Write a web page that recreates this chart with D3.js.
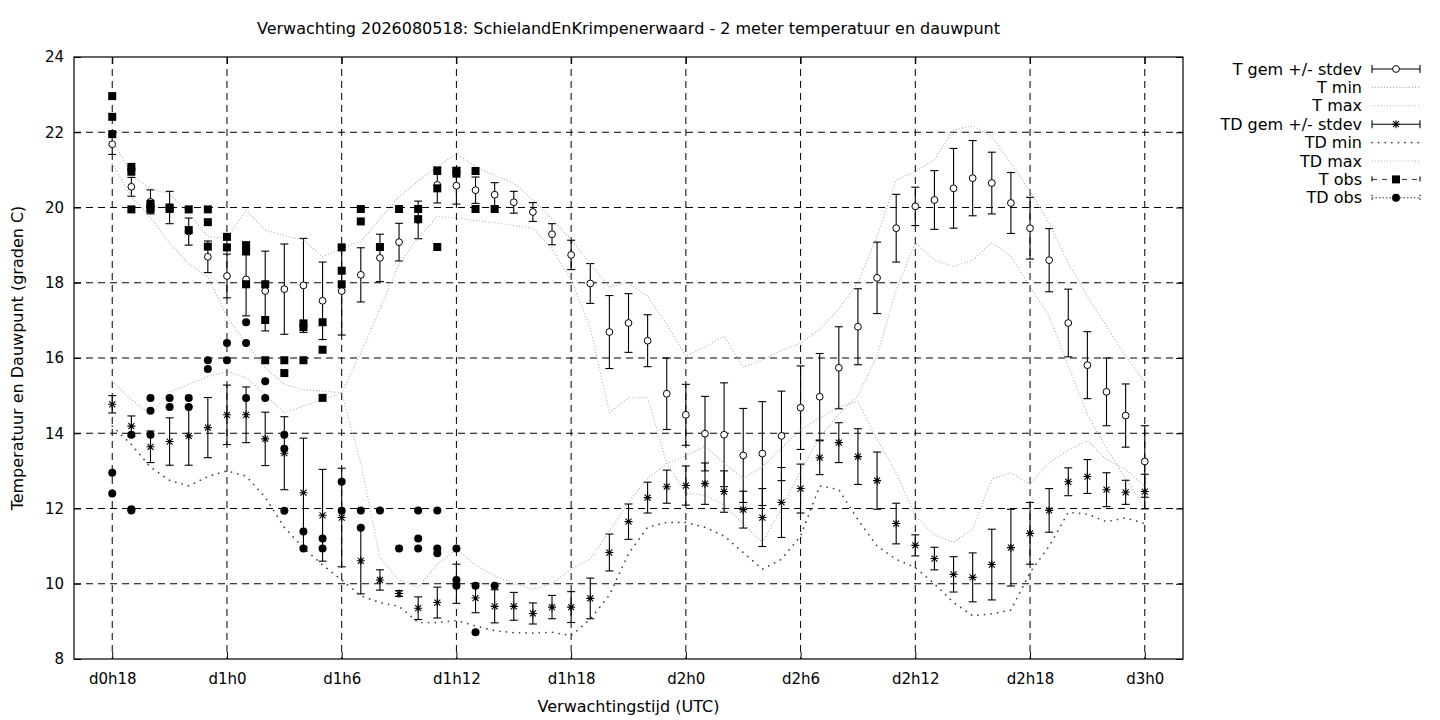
<!DOCTYPE html>
<html>
<head>
<meta charset="utf-8">
<script src="https://d3js.org/d3.v7.min.js"></script>
<style>
body { margin: 0; background: #fff; }
text { font-family: "DejaVu Sans", sans-serif; font-size: 16px; fill: #000; }
</style>
</head>
<body>
<svg id="chart" width="1440" height="720"></svg>
<script>
// verwachting per uur, uren vanaf d0h0
const hours = [18,19,20,21,22,23,24,25,26,27,28,29,30,31,32,33,34,35,36,37,38,39,40,41,42,43,44,45,
  46,47,48,49,50,51,52,53,54,55,56,57,58,59,60,61,62,63,64,65,66,67,68,69,70,71,72];

const tGem = [21.68,20.55,20.15,20.0,19.36,18.69,18.18,18.09,17.78,17.83,17.93,17.52,17.78,18.21,18.66,19.08,
  19.67,20.6,20.58,20.46,20.34,20.14,19.88,19.29,18.74,17.98,16.69,16.93,16.46,15.05,14.49,13.99,13.96,13.41,
  13.46,13.93,14.68,14.97,15.74,16.83,18.13,19.45,20.03,20.2,20.51,20.78,20.65,20.12,19.45,18.6,16.93,15.81,
  15.1,14.47,13.25];
const tSd = [0.27,0.25,0.32,0.43,0.36,0.42,0.58,0.97,1.06,1.2,1.25,1.03,1.17,0.72,0.63,0.5,0.5,0.48,0.49,0.35,
  0.32,0.29,0.25,0.28,0.39,0.53,0.97,0.78,0.69,0.95,0.81,0.99,1.38,1.25,1.38,1.19,1.11,1.15,1.09,1.01,0.95,0.9,
  0.51,0.78,1.06,1.0,0.82,0.81,0.82,0.84,0.9,0.89,0.9,0.84,0.95];
const tMin = [21.17,20.28,19.75,19.05,18.5,18.16,17.1,16.39,15.74,15.3,15.16,15.12,15.08,16.14,17.3,18.5,19.2,
  19.76,19.72,19.65,19.6,19.52,19.45,18.9,18.08,16.8,14.55,14.94,14.95,13.2,12.4,12.35,12.1,11.6,11.1,12.0,13.0,
  13.9,14.5,15.0,16.05,17.82,19.06,18.61,18.43,18.6,19.07,18.7,17.9,17.11,15.8,14.5,13.6,12.8,12.0];
const tMax = [21.83,20.86,20.5,20.37,19.84,19.22,19.18,19.93,19.4,19.25,19.14,18.69,18.91,19.1,19.7,20.29,20.7,
  21.09,21.43,21.09,20.85,20.65,20.2,19.7,19.14,18.5,17.9,17.99,17.64,16.9,16.05,16.3,16.58,15.75,15.95,16.2,
  16.4,16.76,17.3,18.0,19.23,20.73,20.96,21.27,22.06,22.17,21.88,21.18,20.43,19.59,18.52,17.64,16.84,16.05,15.38];

const tdGem = [14.77,14.19,13.64,13.78,13.93,14.15,14.49,14.49,13.85,13.47,12.42,11.82,11.76,10.61,10.1,9.74,
  9.35,9.5,10.0,9.62,9.4,9.4,9.21,9.38,9.38,9.61,10.83,11.65,12.29,12.58,12.61,12.66,12.45,11.97,11.76,12.16,
  12.53,13.35,13.75,13.38,12.74,11.6,11.02,10.67,10.25,10.17,10.51,10.96,11.34,11.95,12.71,12.85,12.5,12.43,12.45];
const tdSd = [0.23,0.27,0.42,0.63,0.78,0.8,0.79,0.74,0.71,0.97,1.45,1.22,1.31,0.88,0.27,0.08,0.3,0.41,0.52,0.39,
  0.44,0.37,0.28,0.31,0.41,0.54,0.49,0.47,0.41,0.44,0.52,0.55,0.55,0.49,0.77,0.93,0.65,0.45,0.53,0.74,0.76,0.54,
  0.28,0.3,0.47,0.65,0.94,1.02,0.82,0.58,0.37,0.45,0.45,0.32,0.46];
const tdMin = [14.19,13.7,13.1,12.75,12.6,12.85,13.0,12.86,12.3,11.5,10.95,10.5,10.1,9.68,9.5,9.4,8.97,8.97,
  9.02,8.88,8.75,8.7,8.69,8.71,8.62,9.06,9.7,10.8,11.5,11.63,11.63,11.5,11.27,10.83,10.39,10.65,11.27,12.6,12.5,
  11.7,11.0,10.65,10.43,10.0,9.5,9.15,9.2,9.3,10.3,11.0,11.9,11.85,11.65,11.75,11.6];
const tdMax = [15.38,14.9,14.5,15.1,15.3,15.5,15.65,15.47,15.03,14.54,14.72,14.9,15.08,13.2,10.7,10.1,9.9,10.52,
  10.92,10.5,10.21,10.0,9.85,10.0,10.4,10.65,11.4,12.16,12.8,13.2,13.4,13.66,13.2,12.8,13.1,13.6,14.1,14.4,14.7,
  14.85,13.84,12.95,11.8,11.3,11.1,11.45,12.78,12.95,12.64,13.22,13.55,13.8,13.3,13.04,12.6];

// waarnemingen [uur, waarde]
const tObs = [[18,22.96],[18,22.41],[18,21.95],[19,21.08],[19,20.95],[19,19.95],[20,20.1],[20,20.0],[20,19.95],
  [21,20.0],[21,19.96],[22,19.95],[22,19.4],[23,19.95],[23,19.61],[23,18.96],[24,19.22],[24,18.94],
  [25,19.0],[25,18.83],[25,17.96],[26,17.96],[26,17.01],[26,15.94],[27,15.94],[27,15.6],
  [28,16.92],[28,16.82],[28,15.94],[29,16.95],[29,16.22],[29,14.94],[30,18.94],[30,18.32],[30,17.96],
  [31,19.96],[31,19.63],[32,18.95],[33,19.96],[34,19.96],[34,19.69],[35,20.97],[35,20.51],[35,18.95],
  [36,20.97],[36,20.9],[37,20.97],[37,19.96],[38,19.96]];
const tdObs = [[18,12.95],[18,12.4],[19,13.96],[19,11.98],[19,11.95],[20,14.94],[20,14.6],[20,13.96],
  [21,14.94],[21,14.7],[22,14.94],[22,14.7],[23,15.94],[23,15.71],[24,16.4],[24,15.94],
  [25,16.95],[25,16.4],[25,14.94],[26,15.38],[26,14.94],[27,13.96],[27,13.59],[27,11.94],
  [28,11.39],[28,10.94],[29,11.2],[29,10.94],[30,12.71],[30,11.94],[31,11.95],[31,11.49],[32,11.95],
  [33,10.94],[34,11.95],[34,11.2],[34,10.94],[35,11.95],[35,10.94],[35,10.81],[36,10.94],[36,10.1],
  [36,9.95],[37,9.95],[37,8.71],[38,9.95]];

const xTicks = [18,24,30,36,42,48,54,60,66,72];
const xLabels = ["d0h18","d1h0","d1h6","d1h12","d1h18","d2h0","d2h6","d2h12","d2h18","d3h0"];
const yTicks = [8,10,12,14,16,18,20,22,24];

const pl = 74, pr = 1183, pt = 57, pb = 659;
const svg = d3.select("#chart");
const x = d3.scaleLinear().domain([16, 74]).range([pl, pr]);
const y = d3.scaleLinear().domain([8, 24]).range([pb, pt]);

// raster
svg.append("g").selectAll("line").data(yTicks.slice(1, -1)).join("line")
  .attr("x1", pl).attr("x2", pr).attr("y1", d => y(d)).attr("y2", d => y(d))
  .attr("stroke", "#000").attr("stroke-dasharray", "7,5");
svg.append("g").selectAll("line").data(xTicks).join("line")
  .attr("x1", d => x(d)).attr("x2", d => x(d)).attr("y1", pt).attr("y2", pb)
  .attr("stroke", "#000").attr("stroke-dasharray", "7,5");

// assen
const ax = (g) => { g.select(".domain").remove(); g.selectAll("text").style("font-size", "15px"); };
svg.append("g").attr("transform", `translate(${pl},0)`)
  .call(d3.axisLeft(y).tickValues(yTicks).tickSizeInner(-7).tickSizeOuter(0).tickPadding(10)).call(ax);
svg.append("g").attr("transform", `translate(${pr},0)`)
  .call(d3.axisRight(y).tickValues(yTicks).tickSizeInner(-7).tickSizeOuter(0).tickFormat("")).call(ax);
svg.append("g").attr("transform", `translate(0,${pb})`)
  .call(d3.axisBottom(x).tickValues(xTicks).tickFormat((d, i) => xLabels[i])
    .tickSizeInner(-7).tickSizeOuter(0).tickPadding(14)).call(ax);
svg.append("g").attr("transform", `translate(0,${pt})`)
  .call(d3.axisTop(x).tickValues(xTicks).tickSizeInner(-7).tickSizeOuter(0).tickFormat("")).call(ax);
svg.selectAll(".tick line").attr("stroke", "#000");
svg.append("rect").attr("x", pl).attr("y", pt).attr("width", pr - pl).attr("height", pb - pt)
  .attr("fill", "none").attr("stroke", "#000").attr("stroke-width", 1.2);

// lijnstijlen
const lightDot = { stroke: "#a8a8a8", dash: "0.1,3", w: 1.1 };
const darkDot = { stroke: "#444", dash: "0.1,6.5", w: 1.7 };

const plot = svg.append("g");

function errorBars(mean, sd) {
  const g = plot.append("g").attr("stroke", "#000").attr("stroke-width", 1.1);
  hours.forEach((h, i) => {
    const cx = x(h), y0 = y(mean[i] - sd[i]), y1 = y(mean[i] + sd[i]);
    g.append("line").attr("x1", cx).attr("x2", cx).attr("y1", y0).attr("y2", y1);
    g.append("line").attr("x1", cx - 4).attr("x2", cx + 4).attr("y1", y0).attr("y2", y0);
    g.append("line").attr("x1", cx - 4).attr("x2", cx + 4).attr("y1", y1).attr("y2", y1);
  });
}
function curve(vals, st) {
  plot.append("path").datum(vals)
    .attr("d", d3.line().x((d, i) => x(hours[i])).y(d => y(d)))
    .attr("fill", "none").attr("stroke", st.stroke).attr("stroke-width", st.w)
    .attr("stroke-dasharray", st.dash).attr("stroke-linecap", "round");
}
const starPath = "M-4,0H4M0,-4V4M-3,-3L3,3M-3,3L3,-3";

// T gem +/- stdev
errorBars(tGem, tSd);
plot.append("g").selectAll("circle").data(tGem).join("circle")
  .attr("cx", (d, i) => x(hours[i])).attr("cy", d => y(d)).attr("r", 3.4)
  .attr("fill", "#fff").attr("stroke", "#000").attr("stroke-width", 1);
curve(tMin, lightDot);
curve(tMax, lightDot);

// TD gem +/- stdev
errorBars(tdGem, tdSd);
plot.append("g").selectAll("path").data(tdGem).join("path")
  .attr("transform", (d, i) => `translate(${x(hours[i])},${y(d)})`)
  .attr("d", starPath).attr("stroke", "#000").attr("stroke-width", 1.1);
curve(tdMin, darkDot);
curve(tdMax, lightDot);

// waarnemingen
plot.append("g").selectAll("rect").data(tObs).join("rect")
  .attr("x", d => x(d[0]) - 4).attr("y", d => y(d[1]) - 4).attr("width", 8).attr("height", 8).attr("fill", "#000");
plot.append("g").selectAll("circle").data(tdObs).join("circle")
  .attr("cx", d => x(d[0])).attr("cy", d => y(d[1])).attr("r", 4).attr("fill", "#000");

// titels
svg.append("text").attr("x", (pl + pr) / 2).attr("y", 34).attr("text-anchor", "middle")
  .text("Verwachting 2026080518: SchielandEnKrimpenerwaard - 2 meter temperatuur en dauwpunt");
svg.append("text").attr("x", (pl + pr) / 2).attr("y", 712).attr("text-anchor", "middle")
  .text("Verwachtingstijd (UTC)");
svg.append("text").attr("transform", "translate(23,358) rotate(-90)").attr("text-anchor", "middle")
  .text("Temperatuur en Dauwpunt (graden C)");

// legenda
const legend = [
  { label: "T gem +/- stdev", kind: "err", mark: "circle" },
  { label: "T min", kind: "line", st: lightDot },
  { label: "T max", kind: "line", st: lightDot },
  { label: "TD gem +/- stdev", kind: "err", mark: "star" },
  { label: "TD min", kind: "line", st: darkDot },
  { label: "TD max", kind: "line", st: lightDot },
  { label: "T obs", kind: "obs", mark: "square", dash: "5,5" },
  { label: "TD obs", kind: "obs", mark: "dot", dash: "1.5,2" }
];
const lg = svg.append("g");
legend.forEach((e, i) => {
  const ly = 69 + i * 18.4, x0 = 1372, x1 = 1420, xm = (x0 + x1) / 2;
  lg.append("text").attr("x", 1362).attr("y", ly + 5.5).attr("text-anchor", "end").text(e.label);
  if (e.kind === "line") {
    lg.append("line").attr("x1", x0).attr("x2", x1).attr("y1", ly).attr("y2", ly)
      .attr("stroke", e.st.stroke).attr("stroke-width", e.st.w).attr("stroke-dasharray", e.st.dash)
      .attr("stroke-linecap", "round");
    return;
  }
  const capH = e.kind === "err" ? 4 : 3;
  lg.append("line").attr("x1", x0).attr("x2", x1).attr("y1", ly).attr("y2", ly)
    .attr("stroke", "#000").attr("stroke-width", e.kind === "err" ? 1.1 : 0.8)
    .attr("stroke-dasharray", e.dash || null);
  [x0, x1].forEach(cx => lg.append("line").attr("x1", cx).attr("x2", cx)
    .attr("y1", ly - capH).attr("y2", ly + capH).attr("stroke", "#000").attr("stroke-width", 1.1)
    .attr("stroke-dasharray", e.dash || null));
  if (e.mark === "circle") lg.append("circle").attr("cx", xm).attr("cy", ly).attr("r", 3.4)
    .attr("fill", "#fff").attr("stroke", "#000");
  if (e.mark === "star") lg.append("path").attr("transform", `translate(${xm},${ly})`)
    .attr("d", starPath).attr("stroke", "#000").attr("stroke-width", 1.1);
  if (e.mark === "square") lg.append("rect").attr("x", xm - 4).attr("y", ly - 4)
    .attr("width", 8).attr("height", 8).attr("fill", "#000");
  if (e.mark === "dot") lg.append("circle").attr("cx", xm).attr("cy", ly).attr("r", 4).attr("fill", "#000");
});
</script>
</body>
</html>
